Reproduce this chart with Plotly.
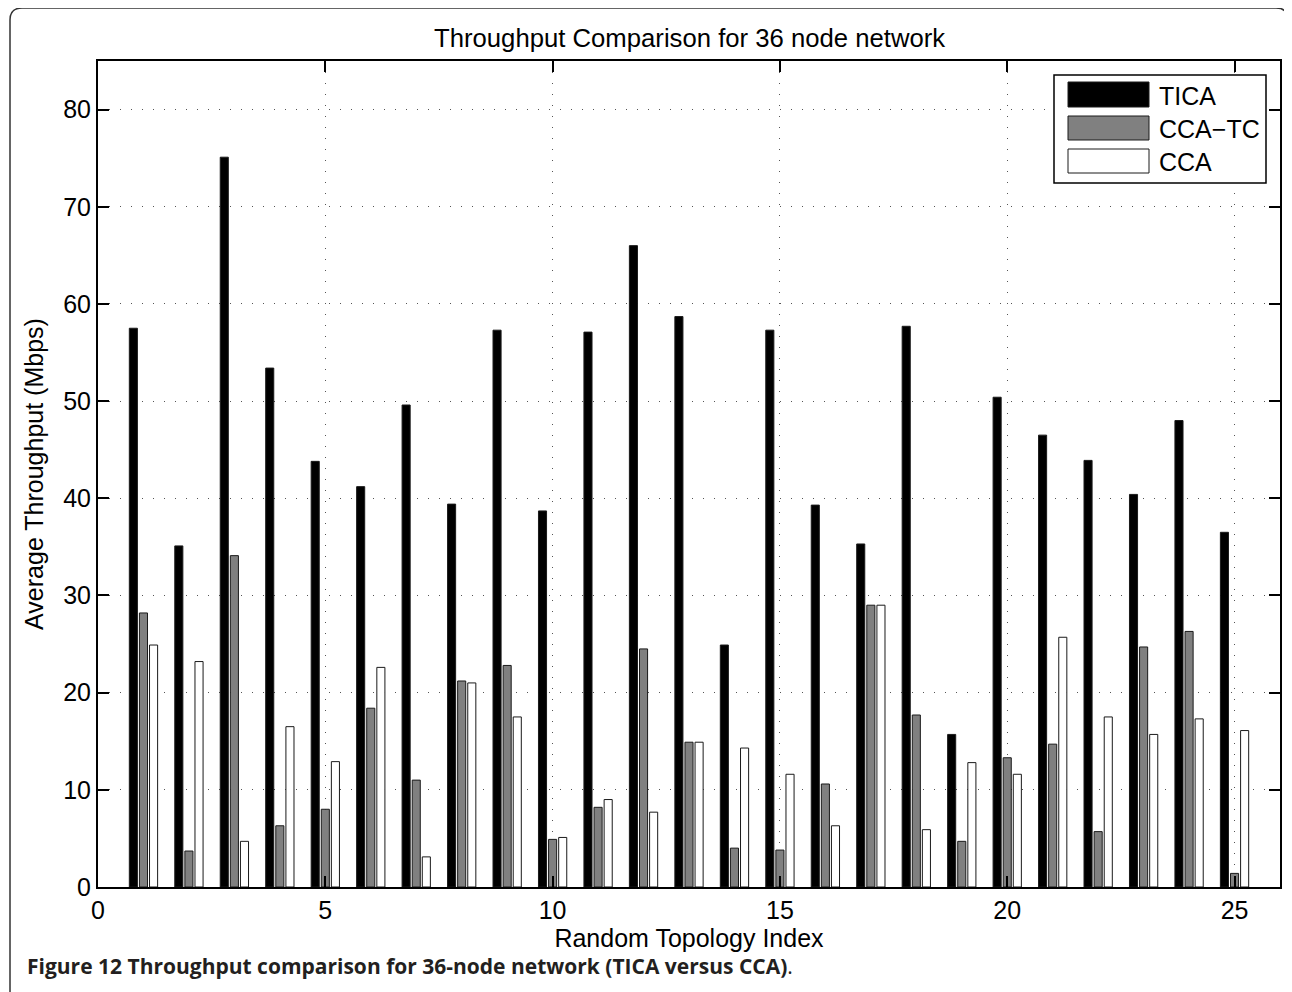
import plotly.graph_objects as go

topology = list(range(1, 26))
tica = [57.5, 35.1, 75.1, 53.4, 43.8, 41.2, 49.6, 39.4, 57.3, 38.7, 57.1, 66.0, 58.7,
        24.9, 57.3, 39.3, 35.3, 57.7, 15.7, 50.4, 46.5, 43.9, 40.4, 48.0, 36.5]
cca_tc = [28.2, 3.7, 34.1, 6.3, 8.0, 18.4, 11.0, 21.2, 22.8, 4.9, 8.2, 24.5, 14.9,
          4.0, 3.8, 10.6, 29.0, 17.7, 4.7, 13.3, 14.7, 5.7, 24.7, 26.3, 1.4]
cca = [24.9, 23.2, 4.7, 16.5, 12.9, 22.6, 3.1, 21.0, 17.5, 5.1, 9.0, 7.7, 14.9,
       14.3, 11.6, 6.3, 29.0, 5.9, 12.8, 11.6, 25.7, 17.5, 15.7, 17.3, 16.1]
series_names = ["TICA", "CCA\u2212TC", "CCA"]
series_colors = ["#000000", "#808080", "#ffffff"]
x_ticks = [0, 5, 10, 15, 20, 25]
y_ticks = [0, 10, 20, 30, 40, 50, 60, 70, 80]

OFF = 8  # page body margin
W, H = 1292 - OFF, 992 - OFF
ML, MR, MT, MB = 98 - OFF, 12, 61 - OFF, 105
PW, PH = W - ML - MR, H - MT - MB
FONT = "Liberation Sans, Arial, Helvetica, sans-serif"


def px(x):
    return (x - OFF - ML) / PW


def py(y):
    return (H - MB - (y - OFF)) / PH


fig = go.Figure()
for name, vals, col in zip(series_names, [tica, cca_tc, cca], series_colors):
    fig.add_trace(go.Bar(
        x=topology, y=vals, name=name,
        marker=dict(color=col, line=dict(color="#1a1a1a", width=1)),
        showlegend=False,
    ))

shapes = []
# outer rounded border
x0, x1, y0, y1, r = 10, 1288, 8, 1010, 12
path = (f"M {px(x0)},{py(y1)} L {px(x0)},{py(y0 + r)} Q {px(x0)},{py(y0)} {px(x0 + r)},{py(y0)} "
        f"L {px(x1 - r)},{py(y0)} Q {px(x1)},{py(y0)} {px(x1)},{py(y0 + r)} L {px(x1)},{py(y1)}")
shapes.append(dict(type="path", path=path, xref="paper", yref="paper",
                   line=dict(color="#333333", width=1.5), layer="above"))

# legend box
shapes.append(dict(type="rect", xref="paper", yref="paper",
                   x0=px(1054), x1=px(1266), y0=py(183), y1=py(75),
                   fillcolor="white", line=dict(color="black", width=1.5), layer="above"))
sw = [(82, 107), (116, 140), (149, 173)]
annotations = []
for (t, b), col, name in zip(sw, series_colors, series_names):
    shapes.append(dict(type="rect", xref="paper", yref="paper",
                       x0=px(1068), x1=px(1149), y0=py(b), y1=py(t),
                       fillcolor=col, line=dict(color="#1a1a1a", width=1), layer="above"))
    annotations.append(dict(text=name, xref="paper", yref="paper",
                            x=px(1157), y=py((t + b) / 2 + 1), xanchor="left", yanchor="middle",
                            showarrow=False, font=dict(family=FONT, size=25, color="black")))

annotations.append(dict(
    text="<b>Figure 12 Throughput comparison for 36-node network (TICA versus CCA)</b>.",
    xref="paper", yref="paper", x=px(25), y=py(966), xanchor="left", yanchor="middle",
    showarrow=False, font=dict(family="Open Sans, sans-serif", size=21, color="#231f20")))

annotations.append(dict(
    text="Throughput Comparison for 36 node network",
    xref="paper", yref="paper", x=0.5, y=py(38), xanchor="center", yanchor="middle",
    showarrow=False, font=dict(family=FONT, size=25.7, color="black")))

axis_common = dict(
    showline=True, linecolor="black", linewidth=2, mirror="ticks",
    ticks="inside", ticklen=11, tickwidth=1.5, tickcolor="black",
    showgrid=True, gridcolor="#555555", gridwidth=1, griddash="1px,10px",
    zeroline=False, tickfont=dict(family=FONT, size=25, color="black"),
)

fig.update_layout(
    width=W, height=H,
    margin=dict(l=ML, r=MR, t=MT, b=MB, autoexpand=False),
    paper_bgcolor="white", plot_bgcolor="white",
    barmode="group", bargap=1 - 2 / 3, bargroupgap=0.2,
    shapes=shapes, annotations=annotations,
    xaxis=dict(range=[0, 26], tickvals=x_ticks, **axis_common,
               title=dict(text="Random Topology Index", font=dict(family=FONT, size=25, color="black"),
                          standoff=4)),
    yaxis=dict(range=[0, 85], tickvals=y_ticks, **axis_common,
               title=dict(text="Average Throughput (Mbps)", font=dict(family=FONT, size=25, color="black"),
                          standoff=12)),
)

fig.write_html("out.html")
